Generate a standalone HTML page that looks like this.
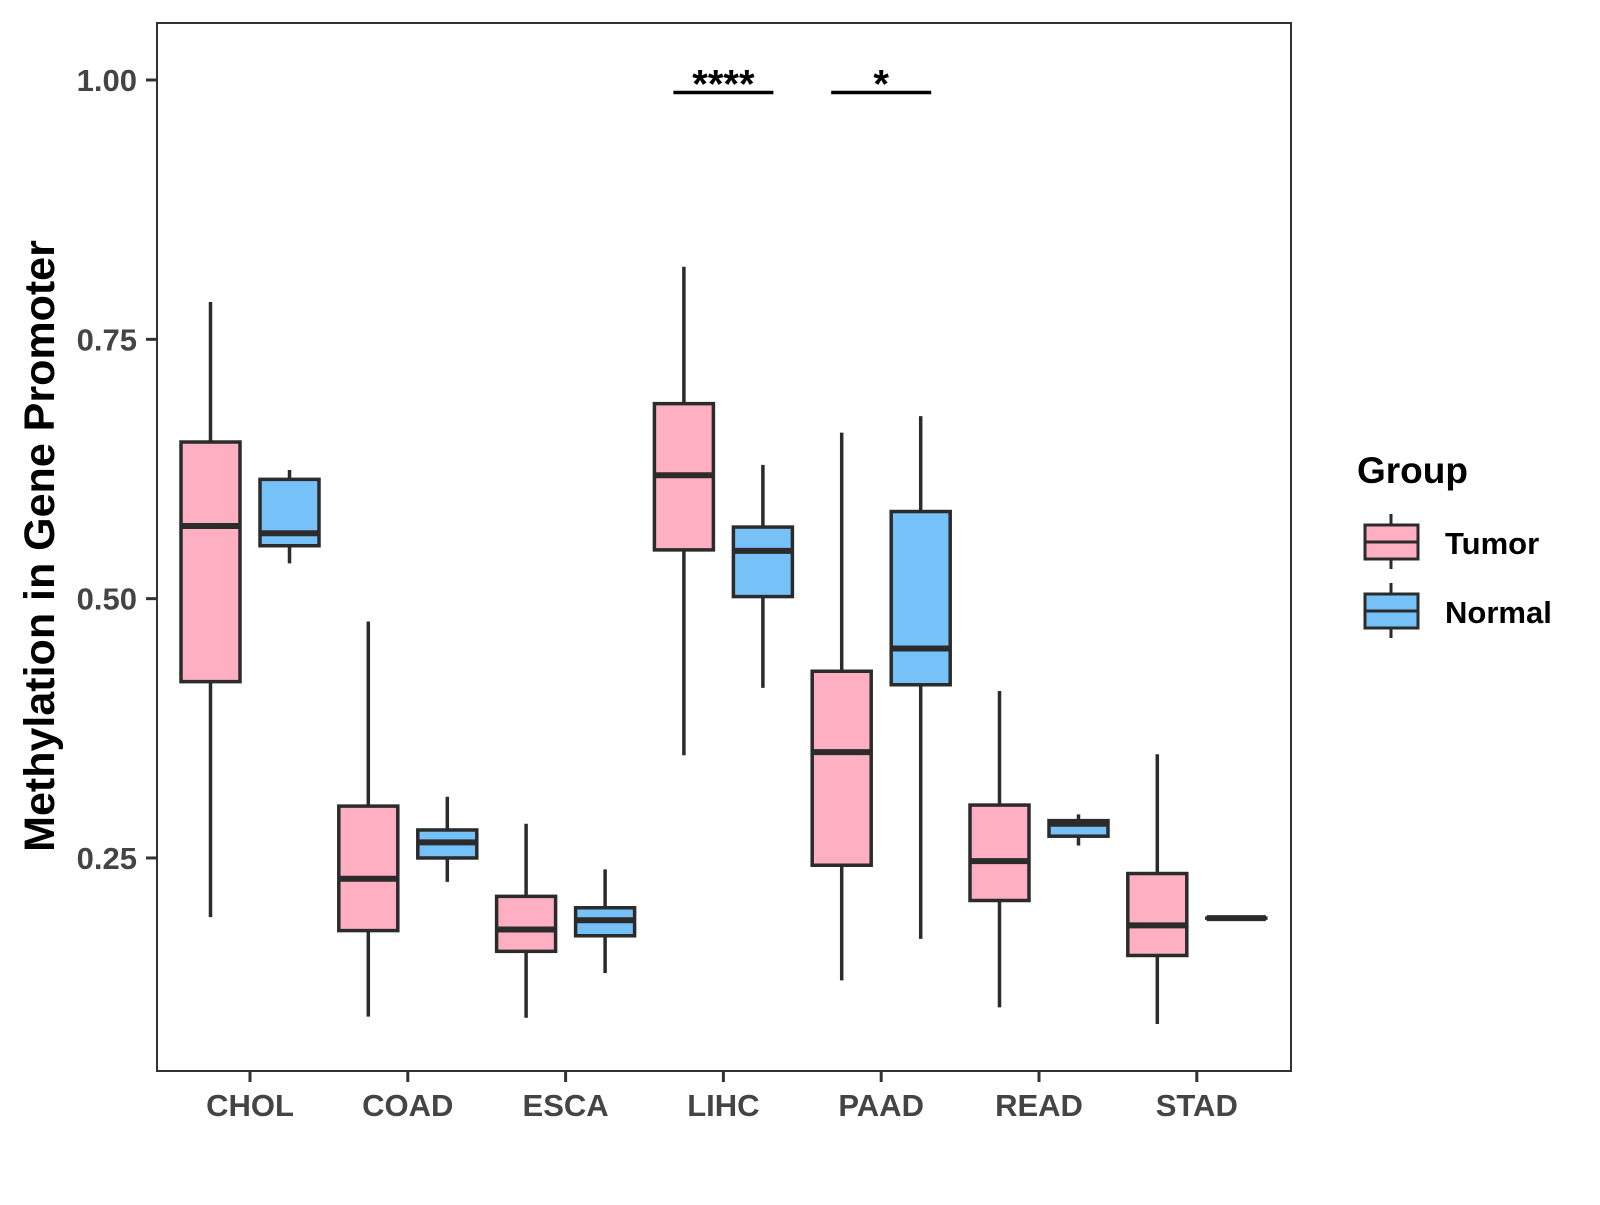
<!DOCTYPE html>
<html><head><meta charset="utf-8"><style>
body{margin:0;background:#fff}
svg text{font-family:"Liberation Sans",Arial,sans-serif;font-weight:bold}
</style></head><body>
<svg id="chart" width="1600" height="1200" xmlns="http://www.w3.org/2000/svg">
<rect x="0" y="0" width="1600" height="1200" fill="#fff"/>
<g id="marks"></g>
<rect x="157" y="23" width="1134" height="1048" fill="none" stroke="#333" stroke-width="2"/>
<g id="axes"></g>
<text x="0" y="0" transform="translate(54,546) rotate(-90)" text-anchor="middle" font-size="43" fill="#000">Methylation in Gene Promoter</text>
<g>
<text x="1357" y="483" font-size="37" fill="#000">Group</text>
<g>
<line x1="1391" y1="514" x2="1391" y2="569" stroke="#2b2b2b" stroke-width="3"/>
<rect x="1365" y="525" width="53" height="34" fill="#ffafc2" stroke="#2b2b2b" stroke-width="3"/>
<line x1="1365" y1="542" x2="1418" y2="542" stroke="#2b2b2b" stroke-width="3"/>
<text x="1445" y="554" font-size="31" fill="#000">Tumor</text>
</g>
<g>
<line x1="1391" y1="583" x2="1391" y2="638" stroke="#2b2b2b" stroke-width="3"/>
<rect x="1365" y="594" width="53" height="34" fill="#76c2f8" stroke="#2b2b2b" stroke-width="3"/>
<line x1="1365" y1="611" x2="1418" y2="611" stroke="#2b2b2b" stroke-width="3"/>
<text x="1445" y="623" font-size="31" fill="#000">Normal</text>
</g>
</g>
</svg>
<script>
const categories=["CHOL","COAD","ESCA","LIHC","PAAD","READ","STAD"];
const tumorStats=[[0.193,0.420,0.570,0.651,0.786],[0.097,0.180,0.230,0.300,0.478],[0.096,0.160,0.181,0.213,0.283],[0.349,0.547,0.619,0.688,0.820],[0.132,0.243,0.352,0.430,0.660],[0.106,0.209,0.247,0.301,0.411],[0.090,0.156,0.185,0.235,0.350]];
const normalStats=[[0.534,0.551,0.563,0.615,0.624],[0.227,0.250,0.265,0.277,0.309],[0.139,0.175,0.190,0.202,0.239],[0.414,0.502,0.546,0.569,0.629],[0.172,0.417,0.452,0.584,0.676],[0.262,0.271,0.283,0.286,0.292],[0.192,0.192,0.192,0.192,0.192]];
const yTicks=[0.25,0.50,0.75,1.00];
const yTickLabels=["0.25","0.50","0.75","1.00"];
const sigCats=["LIHC","PAAD"];
const sigLabels=["****","*"];
const sigY=[0.988,0.988];

const NS="http://www.w3.org/2000/svg";
function y(v){return 80+(1-v)*1037.3;}
function x(i){return 250+i*157.8;}
function mk(tag,attrs,parent){const e=document.createElementNS(NS,tag);for(const k in attrs)e.setAttribute(k,attrs[k]);parent.appendChild(e);return e;}
const marks=document.getElementById('marks'),axes=document.getElementById('axes');
function drawBox(cx,s,fill,name){
  const g=mk('g',{},marks);
  
  
  const hw=29.5,st={stroke:'#2b2b2b','stroke-width':3.5};
  mk('line',Object.assign({x1:cx,x2:cx,y1:y(s[4]),y2:y(s[0])},st),g);
  mk('rect',Object.assign({x:cx-hw,width:2*hw,y:y(s[3]),height:Math.max(0.01,y(s[1])-y(s[3])),fill:fill},st),g);
  mk('line',{x1:cx-hw,x2:cx+hw,y1:y(s[2]),y2:y(s[2]),stroke:'#2b2b2b','stroke-width':6},g);
}
categories.forEach((c,i)=>{
  drawBox(x(i)-39.5,tumorStats[i],'#ffafc2','box-tumor-'+c.toLowerCase());
  drawBox(x(i)+39.5,normalStats[i],'#76c2f8','box-normal-'+c.toLowerCase());
  const t=mk('line',{x1:x(i),x2:x(i),y1:1071,y2:1082,stroke:'#333','stroke-width':3},axes);
  
  
  const l=mk('text',{x:x(i),y:1116,'text-anchor':'middle','font-size':31,fill:'#444'},axes);
  l.textContent=c;
  
  
});
yTicks.forEach((v,i)=>{
  const t=mk('line',{x1:146,x2:157,y1:y(v),y2:y(v),stroke:'#333','stroke-width':3},axes);
  
  
  const l=mk('text',{x:137,y:y(v)+11,'text-anchor':'end','font-size':31,fill:'#444'},axes);
  l.textContent=yTickLabels[i];
  
  
});
sigCats.forEach((c,k)=>{
  const i=categories.indexOf(c);
  const ln=mk('line',{x1:x(i)-50,x2:x(i)+50,y1:y(sigY[k]),y2:y(sigY[k]),stroke:'#000','stroke-width':3.5},marks);
  
  
  const t=mk('text',{x:x(i),y:y(sigY[k])+5,'text-anchor':'middle','font-size':40,fill:'#000'},marks);
  t.textContent=sigLabels[k];
  
  
});
</script>
</body></html>
